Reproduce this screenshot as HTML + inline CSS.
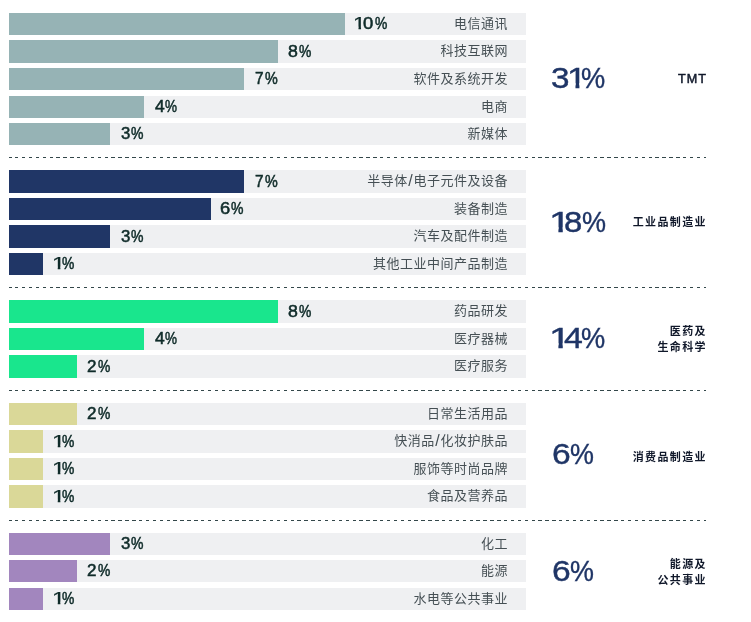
<!DOCTYPE html>
<html lang="zh"><head><meta charset="utf-8"><title>chart</title>
<style>
html,body{margin:0;padding:0;background:#fff;}
body{width:751px;height:622px;position:relative;overflow:hidden;font-family:"Liberation Sans","Noto Sans CJK SC",sans-serif;}
.t{position:absolute;left:9px;width:517px;background:#eff0f2;}
.b{position:absolute;left:9px;}
.v{position:absolute;left:0;width:0;height:22px;line-height:22px;font-size:15.6px;color:#0f2b29;white-space:nowrap;-webkit-text-stroke:0.5px #0f2b29;}
.v span{position:absolute;top:0;display:block;transform-origin:0 0;}
.v span.one{-webkit-text-stroke-width:0.25px;clip-path:polygon(0 0,100% 0,100% 62%,63% 62%,63% 100%,43% 100%,43% 62%,0 62%);}
.l{position:absolute;right:243.4px;height:22px;line-height:22px;font-size:13px;letter-spacing:0.5px;color:#454f54;white-space:nowrap;text-align:right;}
.l span{display:inline-block;margin-right:-0.5px;position:relative;top:0px;}
.l i{font-style:normal;font-size:16px;line-height:0;margin:0 0.4px;position:relative;top:1px;}
svg.d{position:absolute;left:0;top:0;width:751px;height:622px;pointer-events:none;}
.p{position:absolute;left:0;width:0;height:30px;font-size:30px;color:#1f3566;white-space:nowrap;line-height:30px;-webkit-text-stroke:0.4px #1f3566;}
.p span{position:absolute;top:0;display:block;transform-origin:0 0;}
.p span.one{clip-path:polygon(0 0,100% 0,100% 68%,63% 68%,63% 100%,43% 100%,43% 68%,0 68%);}
.c{position:absolute;right:45.5px;font-weight:bold;font-size:11px;letter-spacing:1.35px;color:#10182a;white-space:nowrap;line-height:16px;text-align:right;}
.c span{display:block;margin-right:-1.35px;}
.c.en{font-size:12.6px;letter-spacing:1px;font-weight:normal;-webkit-text-stroke:0.5px #10182a;}
</style></head><body>
<div class="t" style="top:13px;height:22px"></div><div class="b" style="top:13px;height:22px;width:336px;background:#96b3b5"></div><div class="v" style="top:13px"><span class="one" style="left:353.48px;transform:scaleX(1.469)">1</span><span style="left:363.18px;transform:scaleX(1.181)">0</span><span style="left:374.73px;transform:scaleX(0.890)">%</span></div><div class="l" style="top:13px"><span>电信通讯</span></div>
<div class="t" style="top:40px;height:23px"></div><div class="b" style="top:40px;height:23px;width:269px;background:#96b3b5"></div><div class="v" style="top:41px"><span style="left:288.41px;transform:scaleX(1.138)">8</span><span style="left:299.13px;transform:scaleX(0.890)">%</span></div><div class="l" style="top:40px"><span>科技互联网</span></div>
<div class="t" style="top:68px;height:22px"></div><div class="b" style="top:68px;height:22px;width:235px;background:#96b3b5"></div><div class="v" style="top:68px"><span style="left:254.86px;transform:scaleX(0.988)">7</span><span style="left:264.82px;transform:scaleX(0.920)">%</span></div><div class="l" style="top:68px"><span>软件及系统开发</span></div>
<div class="t" style="top:96px;height:22px"></div><div class="b" style="top:96px;height:22px;width:135px;background:#96b3b5"></div><div class="v" style="top:96px"><span style="left:154.68px;transform:scaleX(1.118)">4</span><span style="left:165.43px;transform:scaleX(0.867)">%</span></div><div class="l" style="top:96px"><span>电商</span></div>
<div class="t" style="top:123px;height:22px"></div><div class="b" style="top:123px;height:22px;width:101px;background:#96b3b5"></div><div class="v" style="top:123px"><span style="left:120.93px;transform:scaleX(1.076)">3</span><span style="left:131.43px;transform:scaleX(0.898)">%</span></div><div class="l" style="top:123px"><span>新媒体</span></div>
<div class="p" style="top:62.6px"><span style="left:551.06px;transform:scaleX(1.108)">3</span><span class="one" style="left:566.53px;transform:scaleX(1.180)">1</span><span style="left:581.01px;transform:scaleX(0.906)">%</span></div><div class="c en" style="top:70.8px"><span>TMT</span></div>
<div class="t" style="top:170px;height:23px"></div><div class="b" style="top:170px;height:23px;width:235px;background:#203666"></div><div class="v" style="top:171px"><span style="left:254.86px;transform:scaleX(0.988)">7</span><span style="left:264.82px;transform:scaleX(0.920)">%</span></div><div class="l" style="top:170px"><span>半导体<i>/</i>电子元件及设备</span></div>
<div class="t" style="top:198px;height:22px"></div><div class="b" style="top:198px;height:22px;width:202px;background:#203666"></div><div class="v" style="top:198px"><span style="left:220.46px;transform:scaleX(1.176)">6</span><span style="left:231.43px;transform:scaleX(0.898)">%</span></div><div class="l" style="top:198px"><span>装备制造</span></div>
<div class="t" style="top:225px;height:23px"></div><div class="b" style="top:225px;height:23px;width:101px;background:#203666"></div><div class="v" style="top:226px"><span style="left:120.93px;transform:scaleX(1.076)">3</span><span style="left:131.43px;transform:scaleX(0.898)">%</span></div><div class="l" style="top:225px"><span>汽车及配件制造</span></div>
<div class="t" style="top:253px;height:22px"></div><div class="b" style="top:253px;height:22px;width:34px;background:#203666"></div><div class="v" style="top:253px"><span class="one" style="left:51.99px;transform:scaleX(1.530)">1</span><span style="left:62.23px;transform:scaleX(0.890)">%</span></div><div class="l" style="top:253px"><span>其他工业中间产品制造</span></div>
<div class="p" style="top:206.6px"><span class="one" style="left:548.58px;transform:scaleX(1.310)">1</span><span style="left:563.99px;transform:scaleX(1.098)">8</span><span style="left:582.02px;transform:scaleX(0.900)">%</span></div><div class="c" style="top:214.3px"><span>工业品制造业</span></div>
<div class="t" style="top:300px;height:23px"></div><div class="b" style="top:300px;height:23px;width:269px;background:#19e68d"></div><div class="v" style="top:301px"><span style="left:288.41px;transform:scaleX(1.138)">8</span><span style="left:299.13px;transform:scaleX(0.890)">%</span></div><div class="l" style="top:300px"><span>药品研发</span></div>
<div class="t" style="top:328px;height:22px"></div><div class="b" style="top:328px;height:22px;width:135px;background:#19e68d"></div><div class="v" style="top:328px"><span style="left:154.68px;transform:scaleX(1.118)">4</span><span style="left:165.43px;transform:scaleX(0.867)">%</span></div><div class="l" style="top:328px"><span>医疗器械</span></div>
<div class="t" style="top:355px;height:23px"></div><div class="b" style="top:355px;height:23px;width:68px;background:#19e68d"></div><div class="v" style="top:356px"><span style="left:87.32px;transform:scaleX(1.091)">2</span><span style="left:98.13px;transform:scaleX(0.890)">%</span></div><div class="l" style="top:355px"><span>医疗服务</span></div>
<div class="p" style="top:322.6px"><span class="one" style="left:548.58px;transform:scaleX(1.310)">1</span><span style="left:563.75px;transform:scaleX(1.128)">4</span><span style="left:581.01px;transform:scaleX(0.906)">%</span></div><div class="c" style="top:323.4px"><span>医药及</span><span>生命科学</span></div>
<div class="t" style="top:403px;height:22px"></div><div class="b" style="top:403px;height:22px;width:68px;background:#dad898"></div><div class="v" style="top:403px"><span style="left:87.32px;transform:scaleX(1.091)">2</span><span style="left:98.13px;transform:scaleX(0.890)">%</span></div><div class="l" style="top:403px"><span>日常生活用品</span></div>
<div class="t" style="top:430px;height:23px"></div><div class="b" style="top:430px;height:23px;width:34px;background:#dad898"></div><div class="v" style="top:431px"><span class="one" style="left:51.99px;transform:scaleX(1.530)">1</span><span style="left:62.23px;transform:scaleX(0.890)">%</span></div><div class="l" style="top:430px"><span>快消品<i>/</i>化妆护肤品</span></div>
<div class="t" style="top:458px;height:22px"></div><div class="b" style="top:458px;height:22px;width:34px;background:#dad898"></div><div class="v" style="top:458px"><span class="one" style="left:51.99px;transform:scaleX(1.530)">1</span><span style="left:62.23px;transform:scaleX(0.890)">%</span></div><div class="l" style="top:458px"><span>服饰等时尚品牌</span></div>
<div class="t" style="top:485px;height:23px"></div><div class="b" style="top:485px;height:23px;width:34px;background:#dad898"></div><div class="v" style="top:486px"><span class="one" style="left:51.99px;transform:scaleX(1.530)">1</span><span style="left:62.23px;transform:scaleX(0.890)">%</span></div><div class="l" style="top:485px"><span>食品及营养品</span></div>
<div class="p" style="top:438.6px"><span style="left:551.77px;transform:scaleX(1.120)">6</span><span style="left:569.92px;transform:scaleX(0.896)">%</span></div><div class="c" style="top:449.1px"><span>消费品制造业</span></div>
<div class="t" style="top:533px;height:22px"></div><div class="b" style="top:533px;height:22px;width:101px;background:#a286be"></div><div class="v" style="top:533px"><span style="left:120.93px;transform:scaleX(1.076)">3</span><span style="left:131.43px;transform:scaleX(0.898)">%</span></div><div class="l" style="top:533px"><span>化工</span></div>
<div class="t" style="top:560px;height:22px"></div><div class="b" style="top:560px;height:22px;width:68px;background:#a286be"></div><div class="v" style="top:560px"><span style="left:87.32px;transform:scaleX(1.091)">2</span><span style="left:98.13px;transform:scaleX(0.890)">%</span></div><div class="l" style="top:560px"><span>能源</span></div>
<div class="t" style="top:588px;height:22px"></div><div class="b" style="top:588px;height:22px;width:34px;background:#a286be"></div><div class="v" style="top:588px"><span class="one" style="left:51.99px;transform:scaleX(1.530)">1</span><span style="left:62.23px;transform:scaleX(0.890)">%</span></div><div class="l" style="top:588px"><span>水电等公共事业</span></div>
<div class="p" style="top:555.6px"><span style="left:551.77px;transform:scaleX(1.120)">6</span><span style="left:569.92px;transform:scaleX(0.896)">%</span></div><div class="c" style="top:555.9px"><span>能源及</span><span>公共事业</span></div>
<svg class="d" viewBox="0 0 751 622" shape-rendering="crispEdges"><line x1="9" y1="157.5" x2="706.2" y2="157.5" stroke="#33474a" stroke-width="1" stroke-dasharray="3.4 3.486" stroke-dashoffset="0.8"/><line x1="9" y1="287.5" x2="706.2" y2="287.5" stroke="#33474a" stroke-width="1" stroke-dasharray="3.4 3.486" stroke-dashoffset="0.8"/><line x1="9" y1="390.5" x2="706.2" y2="390.5" stroke="#33474a" stroke-width="1" stroke-dasharray="3.4 3.486" stroke-dashoffset="0.8"/><line x1="9" y1="520.5" x2="706.2" y2="520.5" stroke="#33474a" stroke-width="1" stroke-dasharray="3.4 3.486" stroke-dashoffset="0.8"/></svg>
</body></html>
